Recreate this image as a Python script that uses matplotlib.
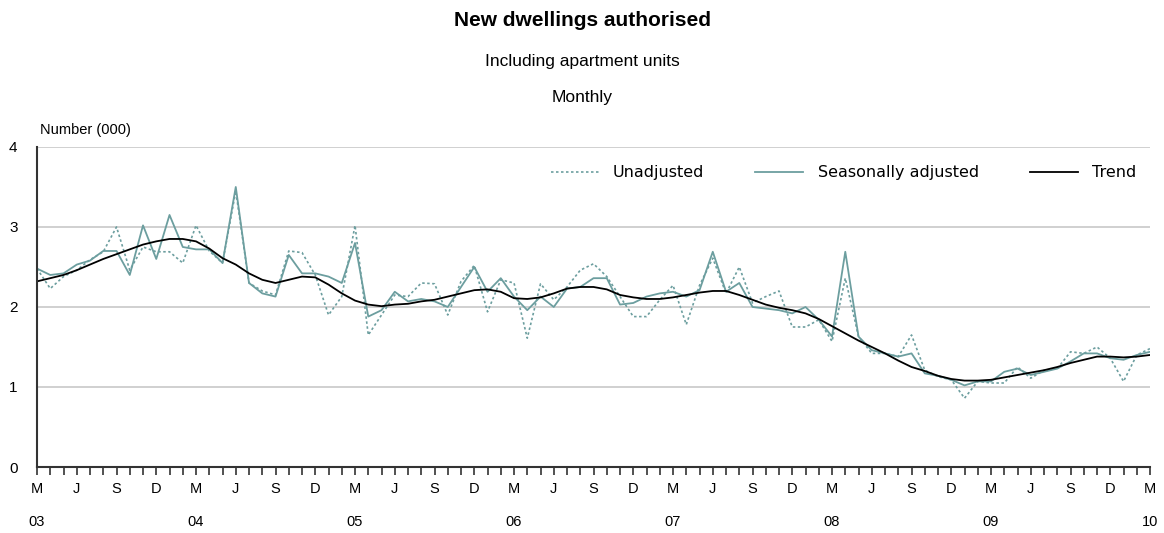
import matplotlib
matplotlib.use("Agg")
import matplotlib.pyplot as plt
import numpy as np

# Monthly data, March 2003 to March 2010 (85 months), number (000)
start_year = 2003
start_month = 3
unadjusted = [2.48, 2.23, 2.38, 2.46, 2.59, 2.69, 3.00, 2.46, 2.75, 2.69,
              2.69, 2.55, 3.02, 2.70, 2.55, 3.45, 2.30, 2.20, 2.15, 2.70,
              2.68, 2.40, 1.90, 2.13, 3.02, 1.65, 1.90, 2.15, 2.13, 2.30,
              2.29, 1.90, 2.32, 2.52, 1.94, 2.34, 2.30, 1.61, 2.29, 2.09,
              2.25, 2.46, 2.54, 2.38, 2.13, 1.88, 1.88, 2.09, 2.27, 1.78,
              2.27, 2.61, 2.17, 2.50, 2.05, 2.13, 2.20, 1.75, 1.75, 1.84,
              1.57, 2.36, 1.63, 1.42, 1.42, 1.38, 1.65, 1.21, 1.13, 1.09,
              0.86, 1.07, 1.05, 1.05, 1.25, 1.11, 1.21, 1.23, 1.44, 1.42,
              1.50, 1.36, 1.07, 1.40, 1.48]
seasonally_adjusted = [2.48, 2.40, 2.42, 2.53, 2.58, 2.70, 2.70, 2.40, 3.02, 2.60,
                       3.15, 2.75, 2.72, 2.72, 2.55, 3.50, 2.30, 2.17, 2.13, 2.65,
                       2.42, 2.42, 2.38, 2.30, 2.80, 1.88, 1.96, 2.19, 2.07, 2.10,
                       2.07, 2.00, 2.25, 2.50, 2.19, 2.36, 2.13, 1.96, 2.13, 2.00,
                       2.23, 2.25, 2.36, 2.36, 2.03, 2.05, 2.13, 2.17, 2.19, 2.13,
                       2.21, 2.69, 2.19, 2.30, 2.00, 1.98, 1.96, 1.92, 2.00, 1.84,
                       1.63, 2.69, 1.63, 1.46, 1.42, 1.38, 1.42, 1.17, 1.14, 1.09,
                       1.02, 1.07, 1.07, 1.19, 1.23, 1.15, 1.19, 1.23, 1.32, 1.42,
                       1.42, 1.36, 1.34, 1.40, 1.44]
trend = [2.32, 2.36, 2.40, 2.46, 2.53, 2.60, 2.66, 2.72, 2.78, 2.82,
         2.85, 2.85, 2.82, 2.73, 2.61, 2.53, 2.42, 2.34, 2.30, 2.34,
         2.38, 2.37, 2.28, 2.17, 2.08, 2.03, 2.01, 2.03, 2.04, 2.07,
         2.09, 2.13, 2.17, 2.21, 2.22, 2.19, 2.11, 2.10, 2.12, 2.17,
         2.23, 2.25, 2.25, 2.22, 2.15, 2.12, 2.10, 2.10, 2.12, 2.15,
         2.18, 2.20, 2.20, 2.15, 2.09, 2.03, 1.99, 1.96, 1.92, 1.85,
         1.76, 1.67, 1.58, 1.50, 1.42, 1.33, 1.25, 1.20, 1.14, 1.10,
         1.08, 1.08, 1.09, 1.12, 1.15, 1.18, 1.21, 1.25, 1.30, 1.34,
         1.38, 1.38, 1.37, 1.38, 1.40]
month_letters = ["J", "F", "M", "A", "M", "J", "J", "A", "S", "O", "N", "D"]
y_ticks = [0, 1, 2, 3, 4]

teal = "#6c9e9f"

plt.rcParams['font.family'] = ['Liberation Sans', 'DejaVu Sans']

fig = plt.figure(figsize=(11.64, 5.33), dpi=100)
ax = fig.add_axes([0.0318, 0.1238, 0.9562, 0.6005])

x = np.arange(len(trend))
ax.plot(x, unadjusted, color=teal, lw=1.2, ls=(0, (1.5, 1.5)), label="Unadjusted")
ax.plot(x, seasonally_adjusted, color=teal, lw=1.3, label="Seasonally adjusted")
ax.plot(x, trend, color="black", lw=1.3, label="Trend")

ax.set_xlim(0, len(trend) - 1)
ax.set_ylim(0, 4)
ax.set_yticks(y_ticks)
ax.set_yticklabels([str(v) for v in y_ticks], fontsize=11)
ax.tick_params(axis='y', length=0, pad=14)
ax.grid(axis='y', color="#c8c8c8", lw=1.2)
ax.set_axisbelow(True)

for s in ["top", "right"]:
    ax.spines[s].set_visible(False)
for s in ["left", "bottom"]:
    ax.spines[s].set_color("#333333")
    ax.spines[s].set_linewidth(1.5)

# x ticks: every month, labels every 3 months, year under March
ax.set_xticks(x)
labels = []
for i in x:
    m = (start_month - 1 + i) % 12
    if i % 3 == 0:
        lab = month_letters[m]
        if m == 2:
            yr = start_year + (start_month - 1 + i) // 12
            lab = lab + "\n\n" + f"{yr % 100:02d}"
        labels.append(lab)
    else:
        labels.append("")
ax.set_xticklabels(labels, fontsize=10.5, linespacing=1.2)
ax.tick_params(axis='x', length=6, width=1.2, color="#333333", pad=5)

leg = ax.legend(loc="upper right", ncol=3, frameon=False,
                prop={'family': 'DejaVu Sans', 'size': 11.5},
                handlelength=3.0, columnspacing=3.2, handletextpad=0.9,
                borderaxespad=0.45, bbox_to_anchor=(1.0, 0.985))

fig.text(0.5, 0.962, "New dwellings authorised", ha="center", va="center",
         fontsize=15, fontweight="bold")
fig.text(0.5, 0.884, "Including apartment units", ha="center", va="center", fontsize=12.5)
fig.text(0.5, 0.818, "Monthly", ha="center", va="center", fontsize=12.5)
fig.text(0.034, 0.756, "Number (000)", ha="left", va="center", fontsize=10.5)

fig.savefig("out.png", dpi=100)
